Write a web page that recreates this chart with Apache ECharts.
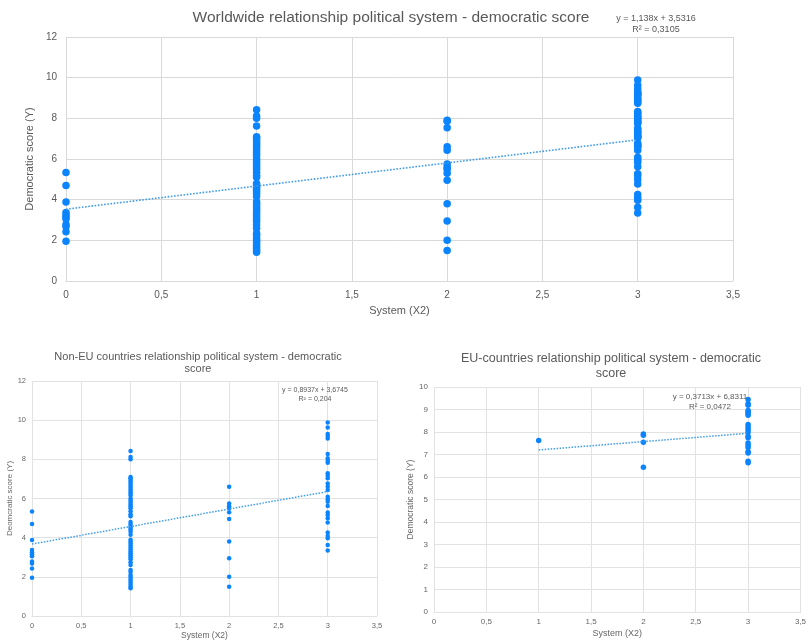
<!DOCTYPE html>
<html><head><meta charset="utf-8">
<script src="https://cdn.jsdelivr.net/npm/echarts@6/dist/echarts.min.js"></script>
<style>html,body{margin:0;padding:0;background:#fff}#c{width:809px;height:643px}</style>
</head><body><div id="c"></div>
<script>
// ---- data ----
const systems = [0, 1, 2, 3];
// Non-EU countries: democratic score per political system (X2)
const nonEU_sys0 = [5.33, 4.70, 3.88, 3.37, 3.25, 3.15, 3.05, 2.78, 2.68, 2.42, 1.95];
const nonEU_sys1 = [8.42, 8.12, 8.0, 7.1, 7.04, 6.95, 6.85, 6.75, 6.65, 6.55, 6.45, 6.35, 6.25, 6.15,
  6.0, 5.9, 5.8, 5.7, 5.6, 5.5, 5.35, 5.2, 5.1, 4.8, 4.7, 4.6, 4.5, 4.4, 4.3, 4.15, 3.9, 3.8, 3.7,
  3.6, 3.5, 3.4, 3.3, 3.2, 3.1, 3.0, 2.9, 2.75, 2.6, 2.35, 2.25, 2.1, 2.0, 1.9, 1.8, 1.7, 1.6, 1.5, 1.42];
const nonEU_sys2 = [6.6, 5.75, 5.6, 5.5, 5.3, 4.95, 3.8, 2.95, 2.0, 1.5];
const nonEU_sys3 = [9.88, 9.63, 9.29, 9.19, 9.07, 8.27, 8.05, 7.93, 7.83, 7.29, 7.17, 7.03, 6.77, 6.6,
  6.43, 6.09, 5.96, 5.84, 5.62, 5.28, 5.16, 4.99, 4.77, 4.26, 4.09, 3.97, 3.63, 3.35];
// EU countries
const eu_sys1 = [7.62];
const eu_sys2 = [7.91, 7.86, 7.54, 6.43];
const eu_sys3 = [9.45, 9.26, 9.19, 8.96, 8.89, 8.82, 8.74, 8.33, 8.22, 8.12, 8.0, 7.81, 7.75, 7.51,
  7.41, 7.31, 7.12, 7.07, 6.70, 6.63];
// Linear trend lines as printed in the reference: [slope, intercept, R²]
const worldTrend = [1.138, 3.5316, 0.3105];
const nonEUTrend = [0.8937, 3.6745, 0.204];
const euTrend = [0.3713, 6.8311, 0.0472];
const worldTrendX = [0, 3];
const nonEUTrendX = [0, 3];
const euTrendX = [1, 3];
// texts
const titleWorld = 'Worldwide relationship political system - democratic score';
const titleNonEU = 'Non-EU countries relationship political system - democratic\nscore';
const titleEU = 'EU-countries relationship political system - democratic\nscore';
const xName = 'System (X2)';
const yNameWorld = 'Democratic score (Y)';
const yNameNonEU = 'Deomcratic score (Y)';
const yNameEU = 'Democratic score (Y)';

// ---- build ----
const nonEU = [nonEU_sys0, nonEU_sys1, nonEU_sys2, nonEU_sys3];
const eu = [[], eu_sys1, eu_sys2, eu_sys3];
function pts(groups) {
  const out = [];
  groups.forEach((g, i) => g.forEach(v => out.push([systems[i], v])));
  return out;
}
const worldPts = pts(nonEU).concat(pts(eu));
const nonEUPts = pts(nonEU);
const euPts = pts(eu);
function trendPts(t, xs) { return xs.map(x => [x, t[0] * x + t[1]]); }
const comma = v => String(v).replace('.', ',');
function eqText(t) { return 'y = ' + comma(t[0]) + 'x + ' + comma(t[1]) + '\nR² = ' + comma(t[2]); }

const FONT = '"Liberation Sans", Arial, sans-serif';
const PT = '#0a84ff';
const TR = '#3f9cf0';

function xAxis(gi, fs, color, gap, labelMargin, gridColor) {
  return {
    type: 'value', gridIndex: gi, min: 0, max: 3.5, interval: 0.5,
    name: xName, nameLocation: 'middle', nameGap: gap,
    nameTextStyle: { fontFamily: FONT, fontSize: fs + 1, color: color },
    axisLine: { show: true, lineStyle: { color: gridColor, width: 1 } },
    axisTick: { show: false },
    axisLabel: { fontFamily: FONT, fontSize: fs, color: color, margin: labelMargin, formatter: comma },
    splitLine: { show: true, lineStyle: { color: gridColor, width: 1 } }
  };
}
function yAxis(gi, max, interval, name, fs, nfs, color, gap, labelMargin, gridColor) {
  return {
    type: 'value', gridIndex: gi, min: 0, max: max, interval: interval,
    name: name, nameLocation: 'middle', nameGap: gap,
    nameTextStyle: { fontFamily: FONT, fontSize: nfs, color: color },
    axisLine: { show: false }, axisTick: { show: false },
    axisLabel: { fontFamily: FONT, fontSize: fs, color: color, margin: labelMargin, formatter: comma },
    splitLine: { show: true, lineStyle: { color: gridColor, width: 1 } }
  };
}

const option = {
  backgroundColor: '#fff',
  animation: false,
  title: [
    { text: titleWorld, left: 386, top: 5, textAlign: 'center',
      textStyle: { fontFamily: FONT, fontSize: 15.5, fontWeight: 'normal', color: '#595959' } },
    { text: eqText(worldTrend), left: 651, top: 8, textAlign: 'center',
      textStyle: { fontFamily: FONT, fontSize: 9, lineHeight: 11, fontWeight: 'normal', color: '#595959', align: 'center' } },
    { text: titleNonEU, left: 193, top: 346, textAlign: 'center',
      textStyle: { fontFamily: FONT, fontSize: 11, lineHeight: 12, fontWeight: 'normal', color: '#595959', align: 'center' } },
    { text: eqText(nonEUTrend), left: 310, top: 381, textAlign: 'center',
      textStyle: { fontFamily: FONT, fontSize: 7, lineHeight: 9, fontWeight: 'normal', color: '#595959', align: 'center' } },
    { text: titleEU, left: 606, top: 346, textAlign: 'center',
      textStyle: { fontFamily: FONT, fontSize: 12.5, lineHeight: 15, fontWeight: 'normal', color: '#595959', align: 'center' } },
    { text: eqText(euTrend), left: 705, top: 387, textAlign: 'center',
      textStyle: { fontFamily: FONT, fontSize: 8, lineHeight: 10, fontWeight: 'normal', color: '#595959', align: 'center' } }
  ],
  grid: [
    { left: 66, top: 37, width: 667, height: 244 },
    { left: 32, top: 381, width: 345, height: 235 },
    { left: 434, top: 387, width: 369, height: 225 }
  ],
  xAxis: [
    xAxis(0, 10, '#595959', 24, 9, '#d9d9d9'),
    xAxis(1, 7.5, '#666', 14, 6, '#e2e2e2'),
    xAxis(2, 8, '#666', 17, 6, '#e2e2e2')
  ],
  yAxis: [
    yAxis(0, 12, 2, yNameWorld, 10, 11, '#595959', 25, 9, '#d9d9d9'),
    yAxis(1, 12, 2, yNameNonEU, 7.5, 8, '#666', 16, 6, '#e2e2e2'),
    yAxis(2, 10, 1, yNameEU, 8, 8.5, '#666', 19, 6, '#e2e2e2')
  ],
  series: [
    { type: 'scatter', xAxisIndex: 0, yAxisIndex: 0, data: worldPts, symbolSize: 7.5,
      itemStyle: { color: PT, opacity: 1 }, z: 3 },
    { type: 'line', xAxisIndex: 0, yAxisIndex: 0, data: trendPts(worldTrend, worldTrendX), symbol: 'none',
      lineStyle: { color: TR, width: 1.6, type: [1.6, 1.6] }, z: 4 },
    { type: 'scatter', xAxisIndex: 1, yAxisIndex: 1, data: nonEUPts, symbolSize: 4.5,
      itemStyle: { color: PT, opacity: 1 }, z: 3 },
    { type: 'line', xAxisIndex: 1, yAxisIndex: 1, data: trendPts(nonEUTrend, nonEUTrendX), symbol: 'none',
      lineStyle: { color: TR, width: 1.5, type: [1.5, 1.5] }, z: 4 },
    { type: 'scatter', xAxisIndex: 2, yAxisIndex: 2, data: euPts, symbolSize: 5.5,
      itemStyle: { color: PT, opacity: 1 }, z: 3 },
    { type: 'line', xAxisIndex: 2, yAxisIndex: 2, data: trendPts(euTrend, euTrendX), symbol: 'none',
      lineStyle: { color: TR, width: 1.5, type: [1.5, 1.5] }, z: 4 }
  ]
};
const chart = echarts.init(document.getElementById('c'), null, { renderer: 'canvas' });
chart.setOption(option);
</script>
</body></html>
